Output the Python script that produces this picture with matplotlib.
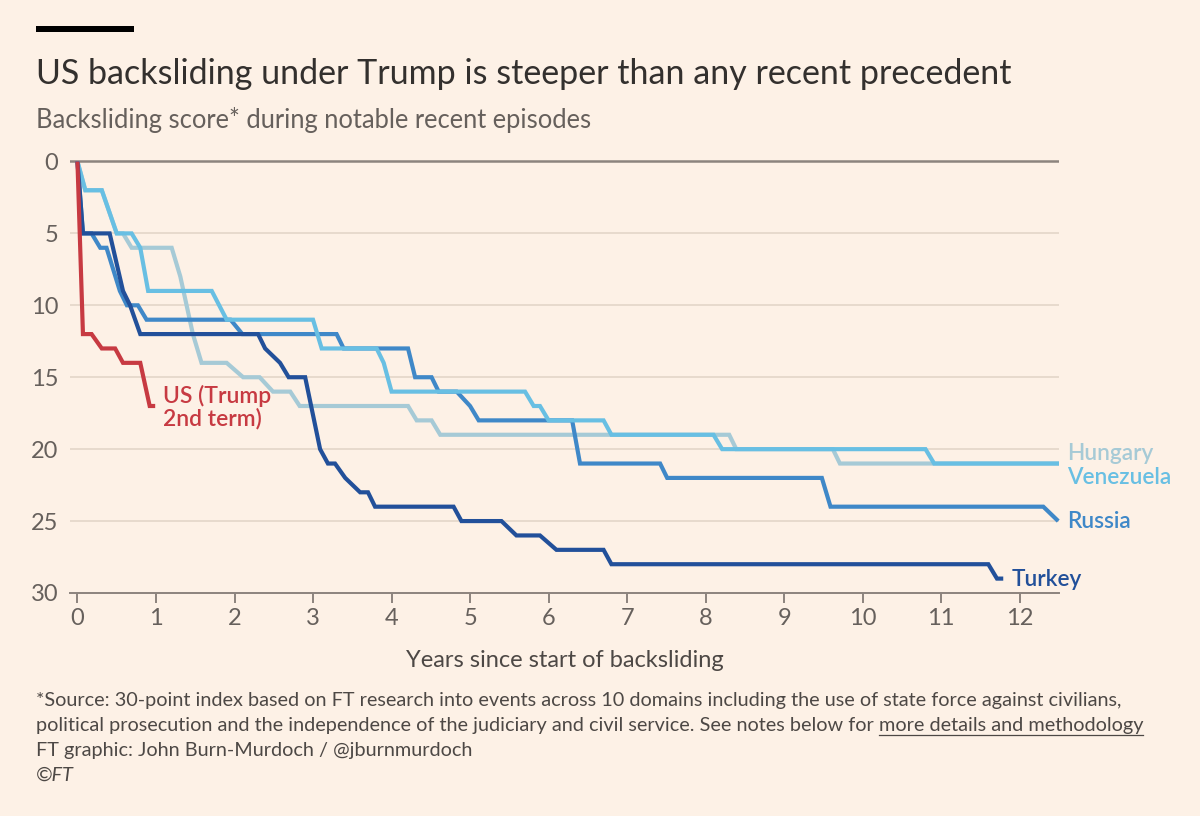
import matplotlib
matplotlib.use("Agg")
import matplotlib.pyplot as plt
from matplotlib.lines import Line2D
from matplotlib.patches import Rectangle

# ---------------- data ----------------
us_t = [0, 0.07, 0.18, 0.31, 0.48, 0.58, 0.80, 0.92, 0.99]
us_v = [0, 12, 12, 13, 13, 14, 14, 17, 17]

turkey_t = [0, 0.07, 0.41, 0.58, 0.67, 0.80, 2.30, 2.39, 2.58, 2.69, 2.90, 3.09, 3.19,
            3.28, 3.41, 3.60, 3.70, 3.79, 4.79, 4.89, 5.40, 5.59, 5.89, 6.10, 6.70,
            6.80, 11.60, 11.71, 11.79]
turkey_v = [0, 5, 5, 9, 10, 12, 12, 13, 14, 15, 15, 20, 21,
            21, 22, 23, 23, 24, 24, 25, 25, 26, 26, 27, 27,
            28, 28, 29, 29]

russia_t = [0, 0.07, 0.18, 0.29, 0.37, 0.54, 0.63, 0.77, 0.88, 1.95, 2.10, 3.30, 3.39,
            4.21, 4.30, 4.51, 4.60, 4.83, 5.00, 5.11, 6.30, 6.40, 7.42, 7.51, 9.48,
            9.59, 12.30, 12.49]
russia_v = [0, 5, 5, 6, 6, 9, 10, 10, 11, 11, 12, 12, 13,
            13, 15, 15, 16, 16, 17, 18, 18, 21, 21, 22, 22,
            24, 24, 25]

hungary_t = [0, 0.10, 0.31, 0.50, 0.58, 0.69, 1.20, 1.31, 1.47, 1.58, 1.90, 2.11, 2.32,
             2.49, 2.71, 2.83, 4.21, 4.32, 4.51, 4.62, 8.30, 8.39, 9.62, 9.71, 12.5]
hungary_v = [0, 2, 2, 5, 5, 6, 6, 8, 12, 14, 14, 15, 15,
             16, 16, 17, 17, 18, 18, 19, 19, 20, 20, 21, 21]

venezuela_t = [0, 0.10, 0.31, 0.50, 0.69, 0.80, 0.90, 1.71, 1.90, 3.00, 3.11, 3.81,
               3.90, 4.00, 5.70, 5.81, 5.89, 6.00, 6.70, 6.80, 8.10, 8.21, 10.80,
               10.91, 12.5]
venezuela_v = [0, 2, 2, 5, 5, 6, 9, 9, 11, 11, 13, 13,
               14, 16, 16, 17, 17, 18, 18, 19, 19, 20, 20,
               21, 21]

x_ticks = list(range(0, 13))
y_ticks = [0, 5, 10, 15, 20, 25, 30]

# ---------------- style ----------------
BG = "#fdf1e6"
FONT = ["Lato", "DejaVu Sans"]
plt.rcParams["font.family"] = FONT

C_US = "#c73a42"
C_TUR = "#22509a"
C_RUS = "#3f88c8"
C_VEN = "#68bfe3"
C_HUN = "#a6cad6"

fig = plt.figure(figsize=(12, 8.16), dpi=100, facecolor=BG)
ax = fig.add_axes([0.058, 0.2733, 0.8245, 0.5341])
ax.set_facecolor(BG)

ax.set_xlim(-0.1, 12.5)
ax.set_ylim(30, -0.3)

for y in y_ticks[1:-1]:
    ax.axhline(y, color="#e7dacd", lw=1.4, zorder=1)
ax.axhline(0, color="#8c847e", lw=1.8, zorder=1)

lw = 3.0
kw = dict(lw=lw, solid_joinstyle="miter", solid_capstyle="butt", clip_on=False)
ax.plot(hungary_t, hungary_v, color=C_HUN, zorder=3, **kw)
ax.plot(russia_t, russia_v, color=C_RUS, zorder=4, **kw)
ax.plot(venezuela_t, venezuela_v, color=C_VEN, zorder=5, **kw)
ax.plot(turkey_t, turkey_v, color=C_TUR, zorder=6, **kw)
ax.plot(us_t, us_v, color=C_US, zorder=7, **kw)

for s in ["top", "right", "left"]:
    ax.spines[s].set_visible(False)
ax.spines["bottom"].set_color("#8c847e")
ax.spines["bottom"].set_linewidth(1.4)

ax.set_xticks(x_ticks)
ax.set_yticks(y_ticks)
ax.tick_params(axis="x", length=7, width=1.4, color="#8c847e", pad=4,
               labelsize=17, labelcolor="#66605c")
ax.tick_params(axis="y", length=0, pad=8, labelsize=17, labelcolor="#66605c")

# series labels
lab_kw = dict(fontsize=16.3, fontweight="semibold", va="center", ha="left")
ax.text(12.6, 20.3, "Hungary", color=C_HUN, clip_on=False, **lab_kw)
ax.text(12.6, 21.95, "Venezuela", color=C_VEN, clip_on=False, **lab_kw)
ax.text(12.6, 25.0, "Russia", color=C_RUS, clip_on=False, **lab_kw)
ax.text(11.9, 29.05, "Turkey", color=C_TUR, clip_on=False, **lab_kw)
ax.text(1.09, 17.1, "US (Trump\n2nd term)", color=C_US, fontsize=16.5,
        fontweight="semibold", va="center", ha="left", linespacing=1.05)

# titles
fig.add_artist(Rectangle((0.030, 1 - 32 / 816), 98 / 1200, 6 / 816,
                         transform=fig.transFigure, color="#000000", lw=0))
fig.text(0.030, 1 - 84 / 816, "US backsliding under Trump is steeper than any recent precedent",
         fontsize=24.5, color="#33302e", va="baseline", ha="left")
fig.text(0.030, 1 - 128 / 816, "Backsliding score* during notable recent episodes",
         fontsize=18.4, color="#66605c", va="baseline", ha="left")

fig.text(0.4705, 1 - 667 / 816, "Years since start of backsliding",
         fontsize=17, color="#4d4845", va="baseline", ha="center")

# footer
fs = 14.3
fc = "#4d4845"
fig.text(0.030, 1 - 706 / 816,
         "*Source: 30-point index based on FT research into events across 10 domains including the use of state force against civilians,",
         fontsize=fs, color=fc, va="baseline", ha="left")
t2 = fig.text(0.030, 1 - 731 / 816,
              "political prosecution and the independence of the judiciary and civil service. See notes below for ",
              fontsize=fs, color=fc, va="baseline", ha="left")
fig.text(0.030, 1 - 756 / 816, "FT graphic: John Burn-Murdoch / @jburnmurdoch",
         fontsize=fs, color=fc, va="baseline", ha="left")
fig.text(0.030, 1 - 781 / 816, "©FT", fontsize=fs, color=fc, va="baseline", ha="left",
         style="italic")

fig.canvas.draw()
r = fig.canvas.get_renderer()
bb = t2.get_window_extent(renderer=r)
x_link = bb.x1 / fig.bbox.width
t3 = fig.text(x_link, 1 - 731 / 816, "more details and methodology",
              fontsize=fs, color=fc, va="baseline", ha="left")
fig.canvas.draw()
bb3 = t3.get_window_extent(renderer=r)
yl = 1 - 735 / 816
fig.add_artist(Line2D([bb3.x0 / fig.bbox.width, bb3.x1 / fig.bbox.width], [yl, yl],
                      transform=fig.transFigure, color=fc, lw=0.9))

fig.savefig("out.png", dpi=100, facecolor=BG)
